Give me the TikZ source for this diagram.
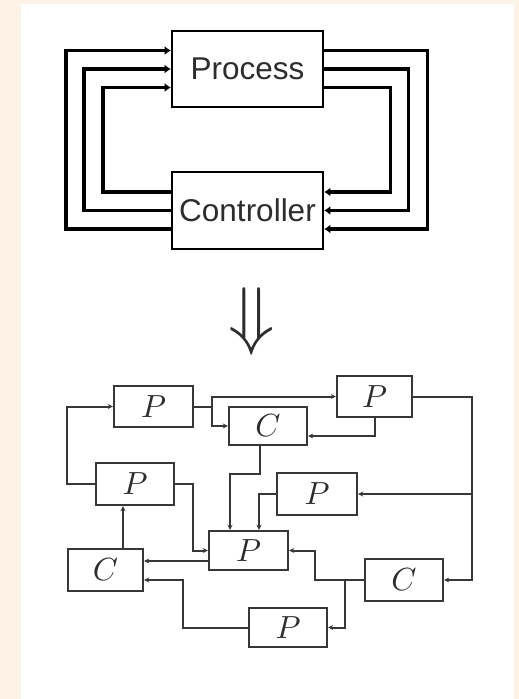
\documentclass[tikz,border=0pt]{standalone}
\usepackage{graphicx}
\usepackage{fontspec}
\setmainfont{Liberation Sans}
\usetikzlibrary{arrows.meta,calc}
\definecolor{cream}{RGB}{253,242,230}
\definecolor{ink}{RGB}{45,45,45}
\definecolor{ink2}{RGB}{55,55,55}
\newcommand{\biglbl}[1]{\scalebox{3.2}{$#1$}}
\tikzset{
  bigbox/.style={draw=black,line width=2.6pt,minimum width=151pt,minimum height=76pt,inner sep=0pt,text=ink,font=\fontsize{31.5}{32}\selectfont},
  bigline/.style={line width=3.6pt,line cap=rect,-{Latex[length=6pt,width=9pt]}},
  smallbox/.style={draw=ink2,line width=2.4pt,minimum width=78pt,minimum height=40pt,inner sep=0pt,text=ink},
  conn/.style={draw=ink2,line width=2pt,-{Stealth[length=5pt,width=5pt]}},
}
\begin{document}
\begin{tikzpicture}[x=1pt,y=-1pt]
\useasboundingbox (0,0) rectangle (519,699);
\fill[cream] (0,0) rectangle (519,699);
\fill[white] (21,4) rectangle (514,699);
% top diagram
\node[bigbox] (proc) at (247.5,69) {Process};
\node[bigbox,minimum height=77pt] (ctrl) at (247.5,210.5) {Controller};
% left loops (controller -> process)
\draw[bigline] ([yshift=-18.5pt]ctrl.west) -- ++(-105,0) |- ([yshift=18.5pt]proc.west);
\draw[bigline] (ctrl.west) -- ++(-87,0) |- (proc.west);
\draw[bigline] ([yshift=18.5pt]ctrl.west) -- ++(-68,0) |- ([yshift=-18.5pt]proc.west);
% right loops (process -> controller)
\draw[bigline] ([yshift=18.5pt]proc.east) -- ++(103,0) |- ([yshift=-18.5pt]ctrl.east);
\draw[bigline] (proc.east) -- ++(84,0) |- (ctrl.east);
\draw[bigline] ([yshift=-18.5pt]proc.east) -- ++(66,0) |- ([yshift=18.5pt]ctrl.east);
% implication arrow
\node[inner sep=0pt,text=ink] (imp) at (251.5,321) {\scalebox{7.6}{$\Downarrow$}};
% bottom diagram
\node[smallbox,minimum width=79pt,minimum height=41pt] (p1) at (153.5,406.5) {\biglbl{P}};
\node[smallbox,minimum height=38pt] (c1) at (268,426) {\biglbl{C}};
\node[smallbox,minimum width=75pt,minimum height=41pt] (p2) at (374.5,396.5) {\biglbl{P}};
\node[smallbox,minimum height=42pt] (p3) at (135,484) {\biglbl{P}};
\node[smallbox,minimum width=80pt,minimum height=42pt] (p4) at (317,494) {\biglbl{P}};
\node[smallbox,minimum width=79pt,minimum height=39pt] (p5) at (248.5,550.5) {\biglbl{P}};
\node[smallbox,minimum width=75pt,minimum height=42pt] (c2) at (105.5,570) {\biglbl{C}};
\node[smallbox,minimum height=42pt] (c3) at (404,580) {\biglbl{C}};
\node[smallbox,minimum height=39pt] (p6) at (288,627.5) {\biglbl{P}};
% connectors
\draw[conn] (p3.west) -- ++(-28,0) |- (p1.west);
\draw[conn] (p1.east) -- ++(17.5,0) coordinate (j1) |- (p2.west);
\draw[conn] (j1) |- (c1.west);
\draw[conn] (p2.south) |- ([yshift=-10pt]c1.east);
\draw[conn] (p2.east) -- ++(59,0) coordinate (j2) |- (c3.east);
\draw[conn] (j2 |- p4.east) -- (p4.east);
\draw[conn] ([xshift=-8pt]c1.south) -- ++(0,28) -| ([xshift=-18.5pt]p5.north);
\draw[conn] (p4.west) -| ([xshift=10.5pt]p5.north);
\draw[conn] (p3.east) -- ++(18,0) |- (p5.west);
\draw[conn] ([xshift=17.5pt]c2.north) -- ([xshift=17.5pt]c2.north |- p3.south);
\draw[conn] ([yshift=-10.5pt]p5.west) -- ([yshift=-10.5pt]p5.west -| c2.east);
\draw[conn] (c3.west) -- ++(-49,0) |- (p5.east);
\draw[conn] (c3.west) -- ++(-19,0) |- (p6.east);
\draw[conn] (p6.west) -- ++(-65,0) |- ([yshift=-10pt]c2.east);
\end{tikzpicture}
\end{document}
